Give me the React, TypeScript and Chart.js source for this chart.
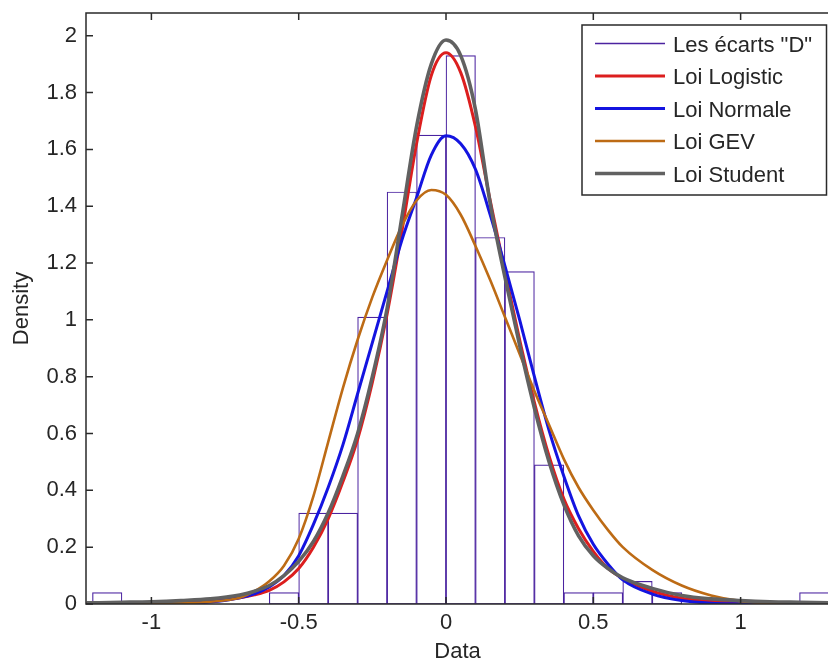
import React, { useEffect, useRef } from "react";
import { Chart, registerables } from "chart.js";

Chart.register(...registerables);

// ---------- data ----------
const binLeft = [-1.2, -1.1, -1.0, -0.9, -0.8, -0.7, -0.6, -0.5, -0.4, -0.3, -0.2, -0.1, 0, 0.1, 0.2, 0.3, 0.4, 0.5, 0.6, 0.7, 0.8, 0.9, 1.0, 1.1, 1.2];
const binWidth = 0.1;
const histDensity = [0.04, 0, 0, 0, 0, 0, 0.04, 0.32, 0.32, 1.01, 1.45, 1.65, 1.93, 1.29, 1.17, 0.49, 0.04, 0.04, 0.08, 0.04, 0, 0, 0, 0, 0.04];

const curveX = [-1.22, -1.1, -1.0, -0.9, -0.8, -0.7, -0.65, -0.6, -0.55, -0.5, -0.45, -0.4, -0.35, -0.3, -0.25, -0.2, -0.15, -0.1, -0.05, 0, 0.05, 0.1, 0.15, 0.2, 0.25, 0.3, 0.35, 0.4, 0.45, 0.5, 0.55, 0.6, 0.7, 0.8, 0.9, 1.0, 1.1, 1.2, 1.3];
const logisticY = [0.0005, 0.001, 0.002, 0.005, 0.01, 0.022, 0.032, 0.048, 0.078, 0.125, 0.2, 0.3, 0.43, 0.58, 0.78, 1.02, 1.31, 1.62, 1.86, 1.94, 1.87, 1.68, 1.42, 1.17, 0.93, 0.71, 0.52, 0.37, 0.265, 0.185, 0.125, 0.09, 0.045, 0.02, 0.009, 0.004, 0.002, 0.001, 0.0005];
const normaleY = [0, 0, 0.001, 0.002, 0.007, 0.022, 0.036, 0.06, 0.1, 0.17, 0.28, 0.41, 0.56, 0.74, 0.92, 1.1, 1.28, 1.43, 1.58, 1.648, 1.62, 1.53, 1.37, 1.19, 1.0, 0.8, 0.61, 0.45, 0.31, 0.21, 0.14, 0.085, 0.035, 0.012, 0.003, 0.001, 0, 0, 0];
const gevY = [0, 0, 0.001, 0.003, 0.008, 0.022, 0.045, 0.08, 0.135, 0.23, 0.38, 0.57, 0.76, 0.93, 1.08, 1.21, 1.33, 1.42, 1.457, 1.44, 1.37, 1.26, 1.14, 1.01, 0.88, 0.75, 0.63, 0.51, 0.41, 0.33, 0.26, 0.2, 0.12, 0.065, 0.03, 0.01, 0.003, 0.001, 0];
const studentY = [0.004, 0.006, 0.008, 0.012, 0.018, 0.032, 0.045, 0.065, 0.1, 0.15, 0.22, 0.32, 0.45, 0.6, 0.8, 1.04, 1.36, 1.68, 1.9, 1.985, 1.93, 1.74, 1.41, 1.15, 0.91, 0.69, 0.5, 0.35, 0.24, 0.17, 0.125, 0.092, 0.055, 0.03, 0.018, 0.012, 0.008, 0.006, 0.004];

const xTicks = [-1, -0.5, 0, 0.5, 1];
const yTicks = [0, 0.2, 0.4, 0.6, 0.8, 1, 1.2, 1.4, 1.6, 1.8, 2];
const X_MIN = -1.222;
const X_MAX = 1.3;
const Y_MIN = 0;
const Y_MAX = 2.08;

const labels = ['Les écarts "D"', "Loi Logistic", "Loi Normale", "Loi GEV", "Loi Student"];

// ---------- styles ----------
const FONT = '"Liberation Sans", Arial, sans-serif';
const TEXT = "#262626";
const AXIS = "#2a2a2a";
const HIST_COLOR = "#4b23a0";
const RED = "#dc1e1e";
const BLUE = "#1414e0";
const ORANGE = "#bd6b15";
const GRAY = "#616161";

const axesPlugin = {
  id: "matlabAxes",
  afterDatasetsDraw(chart: any) {
    const { ctx, chartArea: a, scales } = chart;
    ctx.save();
    ctx.strokeStyle = AXIS;
    ctx.lineWidth = 1.5;
    ctx.beginPath();
    ctx.rect(a.left, a.top, a.right - a.left, a.bottom - a.top);
    ctx.stroke();
    const L = 7;
    ctx.beginPath();
    for (const t of scales.x.ticks) {
      const px = scales.x.getPixelForValue(t.value);
      ctx.moveTo(px, a.bottom);
      ctx.lineTo(px, a.bottom - L);
      ctx.moveTo(px, a.top);
      ctx.lineTo(px, a.top + L);
    }
    for (const t of scales.y.ticks) {
      const py = scales.y.getPixelForValue(t.value);
      ctx.moveTo(a.left, py);
      ctx.lineTo(a.left + L, py);
    }
    ctx.stroke();
    ctx.restore();
  },
};

const legendPlugin = {
  id: "matlabLegend",
  afterDraw(chart: any) {
    const { ctx } = chart;
    const bx = 582, by = 25, bw = 244.5, bh = 170;
    const rows = [43.5, 76, 108.5, 141, 173.5];
    ctx.save();
    ctx.fillStyle = "#ffffff";
    ctx.fillRect(bx, by, bw, bh);
    ctx.strokeStyle = AXIS;
    ctx.lineWidth = 1.5;
    ctx.strokeRect(bx, by, bw, bh);
    chart.data.datasets.forEach((ds: any, i: number) => {
      const y = rows[i];
      ctx.strokeStyle = ds.borderColor;
      ctx.lineWidth = i === 0 ? 1.5 : ds.borderWidth;
      ctx.beginPath();
      ctx.moveTo(595, y);
      ctx.lineTo(665, y);
      ctx.stroke();
      ctx.fillStyle = TEXT;
      ctx.font = `22px ${FONT}`;
      ctx.textBaseline = "middle";
      ctx.textAlign = "left";
      ctx.fillText(ds.label, 673, y + 2);
    });
    ctx.restore();
  },
};

export default function App() {
  const ref = useRef<HTMLCanvasElement>(null);

  useEffect(() => {
    const canvas = ref.current!;
    const line = (label: string, ys: number[], color: string, width: number, order: number) => ({
      type: "line" as const,
      label,
      data: curveX.map((x, i) => ({ x, y: ys[i] })),
      borderColor: color,
      backgroundColor: color,
      borderWidth: width,
      pointRadius: 0,
      fill: false,
      cubicInterpolationMode: "monotone" as const,
      order,
    });

    const chart = new Chart(canvas, {
      type: "bar",
      data: {
        datasets: [
          {
            type: "bar",
            label: labels[0],
            data: binLeft.map((b, i) => ({ x: b + binWidth / 2, y: histDensity[i] })),
            backgroundColor: "#ffffff",
            borderColor: HIST_COLOR,
            borderWidth: 1.2,
            borderSkipped: false,
            barPercentage: 1,
            categoryPercentage: 1,
            order: 5,
          } as any,
          line(labels[1], logisticY, RED, 3, 4),
          line(labels[2], normaleY, BLUE, 3, 3),
          line(labels[3], gevY, ORANGE, 2.6, 2),
          line(labels[4], studentY, GRAY, 3.6, 1),
        ],
      },
      options: {
        responsive: false,
        animation: false,
        devicePixelRatio: 1,
        layout: { padding: { left: 0, top: 13, right: 6, bottom: 0 } },
        plugins: { legend: { display: false }, tooltip: { enabled: false } },
        scales: {
          x: {
            type: "linear",
            min: X_MIN,
            max: X_MAX,
            offset: false,
            grid: { display: false, drawTicks: false },
            border: { display: false },
            afterBuildTicks: (s: any) => {
              s.ticks = xTicks.map((v) => ({ value: v }));
            },
            afterFit: (s: any) => {
              s.height = 76;
              s.paddingLeft = 0;
              s.paddingRight = 0;
            },
            ticks: {
              autoSkip: false,
              maxRotation: 0,
              padding: 6,
              color: TEXT,
              font: { family: FONT, size: 22 },
              callback: (v: any) => String(v),
            },
            title: {
              display: true,
              text: "Data",
              color: TEXT,
              font: { family: FONT, size: 22 },
              padding: { top: 0, bottom: 15 },
            },
          },
          y: {
            type: "linear",
            min: Y_MIN,
            max: Y_MAX,
            grid: { display: false, drawTicks: false },
            border: { display: false },
            afterBuildTicks: (s: any) => {
              s.ticks = yTicks.map((v) => ({ value: v }));
            },
            afterFit: (s: any) => {
              s.width = 86;
              s.paddingTop = 0;
              s.paddingBottom = 0;
            },
            ticks: {
              autoSkip: false,
              padding: 9,
              color: TEXT,
              font: { family: FONT, size: 22 },
              callback: (v: any) => String(v),
            },
            title: {
              display: true,
              text: "Density",
              color: TEXT,
              font: { family: FONT, size: 22 },
              padding: { top: 9, bottom: 0 },
            },
          },
        },
      } as any,
      plugins: [axesPlugin, legendPlugin],
    });
    return () => chart.destroy();
  }, []);

  return (
    <div style={{ position: "fixed", left: 0, top: 0, width: 828, height: 661, overflow: "hidden", background: "#ffffff" }}>
      <canvas ref={ref} width={835} height={680} style={{ display: "block", width: 835, height: 680 }} />
    </div>
  );
}
